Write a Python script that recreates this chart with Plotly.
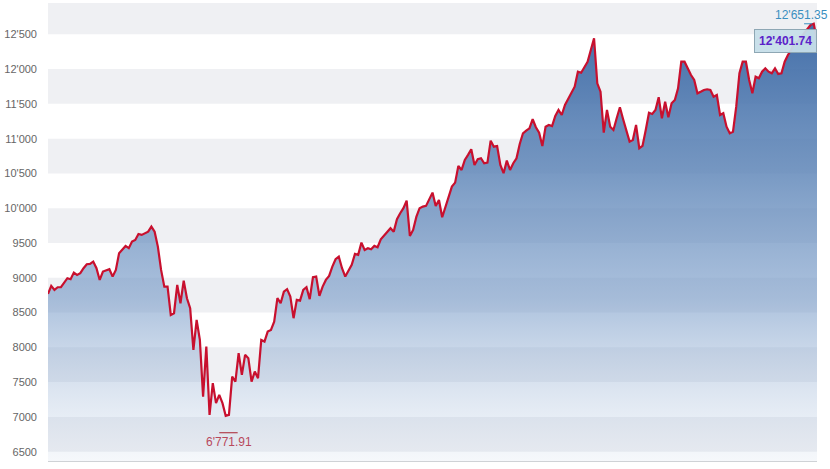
import plotly.graph_objects as go
import numpy as np

# ---- data ----
values = [
    8768, 8883, 8826, 8864, 8864, 8922, 8994, 8979, 9074, 9041,
    9066, 9137, 9195, 9199, 9232, 9137, 8969, 9089, 9103, 9123,
    9017, 9113, 9353, 9400, 9458, 9425, 9520, 9544, 9630, 9616,
    9640, 9663, 9735, 9663, 9448, 9113, 8873, 8873, 8466, 8491,
    8898, 8634, 8959, 8706, 8563, 7963, 8395, 8107, 7292, 8011,
    7029, 7485, 7197, 7317, 7197, 7015, 7029, 7580, 7508, 7916,
    7604, 7892, 7844, 7508, 7652, 7557, 8107, 8083, 8226, 8251,
    8370, 8706, 8634, 8801, 8836, 8729, 8419, 8682, 8672, 8826,
    8864, 8692, 9008, 9017, 8739, 8873, 8969, 9027, 9160, 9267,
    9304, 9137, 9017, 9113, 9185, 9343, 9329, 9505, 9400, 9425,
    9410, 9458, 9439, 9554, 9602, 9649, 9712, 9663, 9842, 9928,
    10000, 10109, 9602, 9688, 9875, 10000, 10023, 10033, 10129, 10224,
    10033, 10119, 9870, 10023, 10166, 10310, 10368, 10607, 10550, 10694,
    10766, 10847, 10622, 10704, 10718, 10646, 10655, 10971, 10885, 10895,
    10622, 10503, 10684, 10550, 10646, 10718, 10924, 11077, 11115, 11149,
    11279, 11164, 11086, 10895, 11172, 11197, 11182, 11326, 11412, 11340,
    11484, 11580, 11652, 11747, 11963, 11948, 12026, 12106, 12274, 12443,
    11796, 11675, 11086, 11412, 11172, 11125, 11293, 11451, 11279, 11125,
    10957, 10981, 11197, 10862, 10895, 11125, 11373, 11355, 11412, 11595,
    11293, 11531, 11307, 11508, 11556, 11724, 12106, 12106, 12010, 11915,
    11843, 11652, 11675, 11700, 11710, 11700, 11603, 11628, 11340, 11365,
    11172, 11077, 11100, 11460, 11940, 12106, 12106, 11843, 11652, 11891,
    11868, 11963, 12011, 11963, 11940, 12011, 11930, 11940, 12106, 12203,
    12274, 12379, 12394, 12457, 12514, 12572, 12634, 12651.35, 12401.74,
]
period_low = 6771.91
period_high = 12651.35

tick_values = [6500, 7000, 7500, 8000, 8500, 9000, 9500, 10000, 10500,
               11000, 11500, 12000, 12500]
tick_labels = ["6500", "7000", "7500", "8000", "8500", "9000", "9500",
               "10'000", "10'500", "11'000", "11'500", "12'000", "12'500"]
band_starts = [6500, 7500, 8500, 9500, 10500, 11500, 12500]
band_size = 500

Y_MIN, Y_MAX = 6366, 12950


def fmt(v):
    return f"{v:,.2f}".replace(",", "'")


x = list(range(len(values)))
n = len(values)
i_max = int(np.argmax(values))
i_min = int(np.argmin(values))

fig = go.Figure()
fig.add_trace(go.Scatter(
    x=x, y=values, mode="lines",
    line=dict(color="#c8102e", width=2.2),
    fill="tozeroy",
    fillgradient=dict(
        type="vertical", start=Y_MIN, stop=12700,
        colorscale=[
            [0.0, "rgba(175,195,222,0.12)"],
            [0.37, "rgba(120,155,200,0.62)"],
            [0.65, "rgba(92,132,183,0.82)"],
            [1.0, "rgba(60,105,165,0.97)"],
        ],
    ),
    hoverinfo="skip", showlegend=False,
))

shapes = []
for b in band_starts:
    shapes.append(dict(type="rect", xref="paper", yref="y", x0=0, x1=1,
                       y0=b, y1=b + band_size, fillcolor="#eff0f3",
                       line=dict(width=0), layer="below"))
# max / min markers
shapes.append(dict(type="line", xref="x", yref="y",
                   x0=i_max - 3, x1=i_max - 0.5, y0=period_high, y1=period_high,
                   line=dict(color="#3a8fc0", width=1)))
shapes.append(dict(type="line", xref="x", yref="y",
                   x0=i_min - 2, x1=i_min + 3.7, y0=period_low, y1=period_low,
                   line=dict(color="#a8202f", width=1)))

annotations = [
    dict(x=i_max, y=period_high, xref="x", yref="y", text=fmt(period_high),
         showarrow=False, xanchor="center", yanchor="bottom", xshift=-12, yshift=0,
         font=dict(family="Liberation Sans, Arial", size=12, color="#3a8fc0")),
    dict(x=i_min, y=period_low, xref="x", yref="y", text=fmt(period_low),
         showarrow=False, xanchor="center", yanchor="top", xshift=3, yshift=0,
         font=dict(family="Liberation Sans, Arial", size=12, color="#b8485c")),
    dict(x=n - 1, y=values[-1], xref="x", yref="y", text="<b>" + fmt(values[-1]) + "</b>",
         showarrow=False, xanchor="right", yanchor="middle", xshift=0,
         bgcolor="rgba(198,222,233,0.95)", bordercolor="#8ea7b4", borderwidth=1,
         borderpad=4,
         font=dict(family="Liberation Sans, Arial", size=12, color="#5b22c9")),
]

fig.update_layout(
    width=830, height=469, autosize=False,
    margin=dict(l=48, r=13, t=3, b=8),
    paper_bgcolor="white", plot_bgcolor="white",
    shapes=shapes, annotations=annotations,
    xaxis=dict(range=[0, n - 1], showgrid=False, zeroline=False,
               showticklabels=False, ticks="", showline=True,
               linecolor="#cfd2d6", linewidth=1),
    yaxis=dict(range=[Y_MIN, Y_MAX], showgrid=False, zeroline=False,
               tickvals=tick_values, ticktext=tick_labels, ticks="",
               ticklabelstandoff=10,
               tickfont=dict(family="Liberation Sans, Arial", size=11, color="#666666")),
    font=dict(family="Liberation Sans, Arial"),
)

fig.write_html(
    "out.html",
    config={"displayModeBar": False},
    post_script="document.body.style.margin='0';document.body.style.overflow='hidden';",
)
